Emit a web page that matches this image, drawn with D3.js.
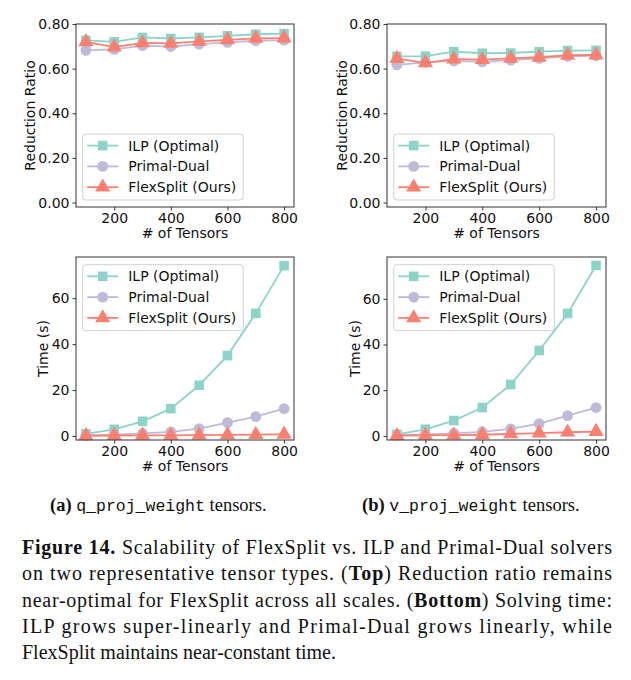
<!DOCTYPE html>
<html>
<head>
<meta charset="utf-8">
<script src="https://cdn.jsdelivr.net/npm/d3@7"></script>
<style>
  body { margin: 0; background: #fff; }
  .tick text { font-family: "DejaVu Sans", sans-serif; font-size: 14px; fill: #111; }
  .tick line { stroke: #333; }
</style>
</head>
<body>
<div id="chart"></div>
<script>
// tensor counts on the x axis
var tensors = [100, 200, 300, 400, 500, 600, 700, 800];
var seriesNames = ["ILP (Optimal)", "Primal-Dual", "FlexSplit (Ours)"];

// reduction ratio, q_proj_weight
var ratioQ_ilp  = [0.727, 0.720, 0.740, 0.735, 0.740, 0.747, 0.754, 0.757];
var ratioQ_pd   = [0.682, 0.686, 0.703, 0.699, 0.710, 0.718, 0.725, 0.728];
var ratioQ_flex = [0.720, 0.696, 0.715, 0.713, 0.722, 0.729, 0.736, 0.737];

// reduction ratio, v_proj_weight
var ratioV_ilp  = [0.655, 0.656, 0.676, 0.669, 0.670, 0.676, 0.681, 0.682];
var ratioV_pd   = [0.617, 0.628, 0.635, 0.630, 0.638, 0.646, 0.655, 0.658];
var ratioV_flex = [0.645, 0.626, 0.643, 0.640, 0.646, 0.651, 0.660, 0.661];

// solving time (s), q_proj_weight
var timeQ_ilp  = [0.9, 2.9, 6.4, 11.9, 22.1, 35.0, 53.4, 74.2];
var timeQ_pd   = [0.3, 0.6, 1.1, 1.8, 3.2, 5.8, 8.4, 11.9];
var timeQ_flex = [0.1, 0.2, 0.3, 0.3, 0.4, 0.5, 0.6, 0.7];

// solving time (s), v_proj_weight
var timeV_ilp  = [0.7, 2.9, 6.7, 12.4, 22.5, 37.4, 53.6, 74.6];
var timeV_pd   = [0.3, 0.6, 1.1, 1.8, 3.1, 5.4, 8.9, 12.4];
var timeV_flex = [0.1, 0.2, 0.3, 0.5, 0.9, 1.2, 1.6, 1.9];

var xTicks = [200, 400, 600, 800];
var ratioTicks = [0, 0.2, 0.4, 0.6, 0.8];
var timeTicks = [0, 20, 40, 60];

var colors = ["#8dd3c7", "#bebada", "#fb8072"];
var shapes = [d3.symbolSquare, d3.symbolCircle, d3.symbolTriangle];
var sizes = [92, 92, 100];

var svg = d3.select("#chart").append("svg")
  .attr("width", 631)
  .attr("height", 680);

var panels = [
  { x0: 76, x1: 294, y0: 24, y1: 207, ydom: [-0.02, 0.80], ticks: ratioTicks, fmt: d3.format(".2f"),
    label: "Reduction Ratio", labelX: 30, series: [ratioQ_ilp, ratioQ_pd, ratioQ_flex], legendTop: false },
  { x0: 387, x1: 606, y0: 24, y1: 207, ydom: [-0.02, 0.80], ticks: ratioTicks, fmt: d3.format(".2f"),
    label: "Reduction Ratio", labelX: 342, series: [ratioV_ilp, ratioV_pd, ratioV_flex], legendTop: false },
  { x0: 76, x1: 294, y0: 257, y1: 440, ydom: [-1.75, 77.95], ticks: timeTicks, fmt: d3.format("d"),
    label: "Time (s)", labelX: 43, series: [timeQ_ilp, timeQ_pd, timeQ_flex], legendTop: true },
  { x0: 387, x1: 606, y0: 257, y1: 440, ydom: [-1.8, 78.3], ticks: timeTicks, fmt: d3.format("d"),
    label: "Time (s)", labelX: 355, series: [timeV_ilp, timeV_pd, timeV_flex], legendTop: true }
];

panels.forEach(function(p) {
  var x = d3.scaleLinear().domain([65, 835]).range([p.x0, p.x1]);
  var y = d3.scaleLinear().domain(p.ydom).range([p.y1, p.y0]);

  var g = svg.append("g");

  // axes
  var xAxis = g.append("g")
    .attr("transform", `translate(0, ${p.y1})`)
    .call(d3.axisBottom(x).tickValues(xTicks).tickSize(3.5).tickPadding(3));
  xAxis.select(".domain").remove();

  var yAxis = g.append("g")
    .attr("transform", `translate(${p.x0}, 0)`)
    .call(d3.axisLeft(y).tickValues(p.ticks).tickFormat(p.fmt).tickSize(3.5).tickPadding(3));
  yAxis.select(".domain").remove();

  g.append("text")
    .attr("x", (p.x0 + p.x1) / 2)
    .attr("y", p.y1 + 31)
    .attr("text-anchor", "middle")
    .attr("font-family", "DejaVu Sans, sans-serif")
    .attr("font-size", "14px")
    .attr("fill", "#111")
    .text("# of Tensors");

  g.append("text")
    .attr("transform", `translate(${p.labelX}, ${(p.y0 + p.y1) / 2}) rotate(-90)`)
    .attr("text-anchor", "middle")
    .attr("dy", "0.35em")
    .attr("font-family", "DejaVu Sans, sans-serif")
    .attr("font-size", "14px")
    .attr("fill", "#111")
    .text(p.label);

  // lines and markers
  var line = d3.line()
    .x(function(d, i) { return x(tensors[i]); })
    .y(function(d) { return y(d); });

  p.series.forEach(function(vals, s) {
    g.append("path")
      .datum(vals)
      .attr("d", line)
      .attr("fill", "none")
      .attr("stroke", colors[s])
      .attr("stroke-width", 1.8);

    g.selectAll(".m" + s)
      .data(vals)
      .enter()
      .append("path")
      .attr("class", "m" + s)
      .attr("transform", function(d, i) { return `translate(${x(tensors[i])}, ${y(d)})`; })
      .attr("d", d3.symbol().type(shapes[s]).size(sizes[s]))
      .attr("fill", colors[s]);
  });

  // frame
  g.append("rect")
    .attr("x", p.x0)
    .attr("y", p.y0)
    .attr("width", p.x1 - p.x0)
    .attr("height", p.y1 - p.y0)
    .attr("fill", "none")
    .attr("stroke", "#333")
    .attr("stroke-width", 1);

  // legend
  var lx = p.x0 + 6.7;
  var ly = p.legendTop ? p.y0 + 7.7 : p.y1 - 73;
  var leg = g.append("g").attr("transform", `translate(${lx}, ${ly})`);
  leg.append("rect")
    .attr("width", 160.5)
    .attr("height", 66)
    .attr("rx", 3)
    .attr("fill", "#fff")
    .attr("fill-opacity", 0.8)
    .attr("stroke", "#d0d0d0")
    .attr("stroke-width", 1);

  seriesNames.forEach(function(name, s) {
    var ry = 11.6 + s * 20.8;
    leg.append("line")
      .attr("x1", 4.5).attr("x2", 35.5)
      .attr("y1", ry).attr("y2", ry)
      .attr("stroke", colors[s])
      .attr("stroke-width", 1.8);
    leg.append("path")
      .attr("transform", `translate(20, ${ry})`)
      .attr("d", d3.symbol().type(shapes[s]).size(sizes[s]))
      .attr("fill", colors[s]);
    leg.append("text")
      .attr("x", 45.5)
      .attr("y", ry)
      .attr("dy", "0.36em")
      .attr("font-family", "DejaVu Sans, sans-serif")
      .attr("font-size", "14px")
      .attr("fill", "#111")
      .text(name);
  });
});

// sub captions
var subCaps = [
  { x: 50, tag: "(a)", code: "q_proj_weight" },
  { x: 362, tag: "(b)", code: "v_proj_weight" }
];
subCaps.forEach(function(c) {
  var t = svg.append("text")
    .attr("x", c.x)
    .attr("y", 511)
    .attr("font-family", "Liberation Serif, serif")
    .attr("font-size", "18.5px")
    .attr("fill", "#111");
  t.append("tspan").attr("font-weight", "bold").text(c.tag + " ");
  t.append("tspan").attr("font-family", "Liberation Mono, monospace").attr("font-size", "16.5px").text(c.code);
  t.append("tspan").text(" tensors.");
});

// figure caption, justified lines
var captionLines = [
  [["b", "Figure 14."], ["", " Scalability of FlexSplit vs. ILP and Primal-Dual solvers"]],
  [["", "on two representative tensor types. ("], ["b", "Top"], ["", ") Reduction ratio remains"]],
  [["", "near-optimal for FlexSplit across all scales. ("], ["b", "Bottom"], ["", ") Solving time:"]],
  [["", "ILP grows super-linearly and Primal-Dual grows linearly, while"]],
  [["", "FlexSplit maintains near-constant time."]]
];

captionLines.forEach(function(parts, i) {
  var t = svg.append("text")
    .attr("x", 22)
    .attr("y", 554 + i * 26.3)
    .attr("font-family", "Liberation Serif, serif")
    .attr("font-size", "20px")
    .attr("fill", "#111");
  if (i < 4) {
    t.attr("textLength", 590).attr("lengthAdjust", "spacing");
  }
  parts.forEach(function(pt) {
    t.append("tspan")
      .attr("font-weight", pt[0] === "b" ? "bold" : "normal")
      .text(pt[1]);
  });
});
</script>
</body>
</html>
